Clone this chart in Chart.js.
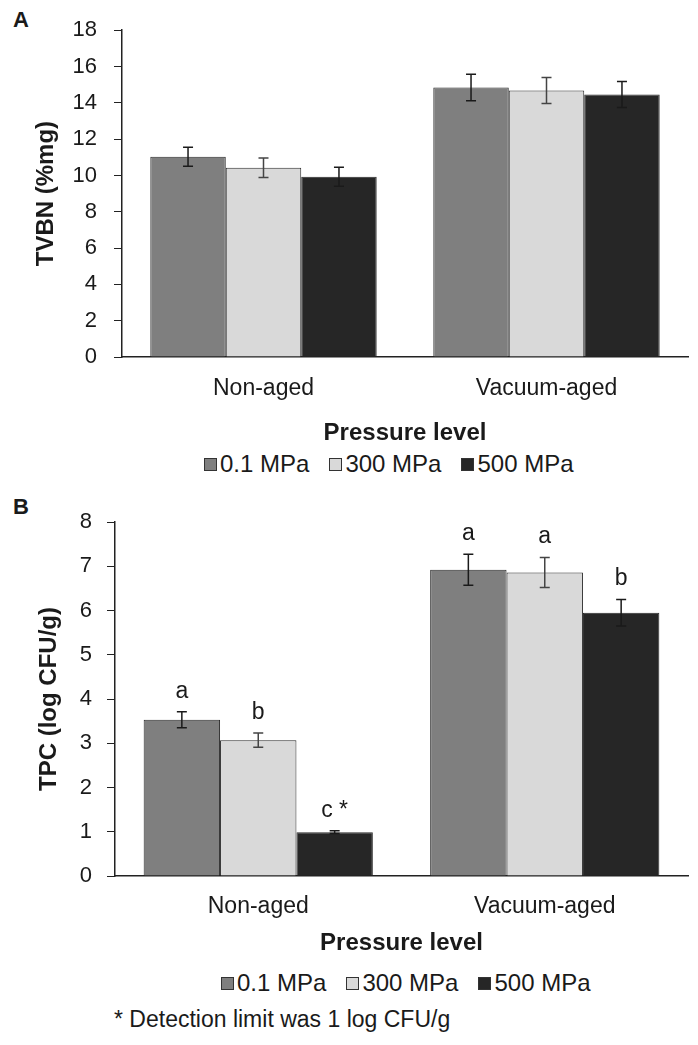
<!DOCTYPE html>
<html>
<head>
<meta charset="utf-8">
<script src="https://cdn.jsdelivr.net/npm/chart.js@4.4.1/dist/chart.umd.min.js"></script>
<style>
    body { margin: 0; background: #fff; }
    #wrap { position: relative; width: 698px; height: 1045px; background: #fff; font-family: "Liberation Sans", Arial, sans-serif; color: #1a1a1a; }
    canvas { position: absolute; left: 0; }
    .panel { position: absolute; left: 13px; font-size: 22px; font-weight: bold; line-height: 1; }
    .legend { position: absolute; display: flex; align-items: center; font-size: 24px; line-height: 1; white-space: nowrap; }
    .legend .item { display: flex; align-items: center; margin-right: 20px; }
    .legend i { display: inline-block; width: 11px; height: 11px; border: 1px solid #333; margin-right: 3px; }
    .note { position: absolute; left: 114px; top: 1008px; font-size: 23px; line-height: 1; white-space: nowrap; }
</style>
</head>
<body>
<div id="wrap">
    <div class="panel" style="top:9px;">A</div>
    <canvas id="chartA" width="698" height="450" style="top:0;"></canvas>
    <div class="legend" id="legendA" style="left:204px;top:452px;"></div>

    <div class="panel" style="top:496px;">B</div>
    <canvas id="chartB" width="698" height="470" style="top:490px;"></canvas>
    <div class="legend" id="legendB" style="left:221px;top:971px;"></div>
    <div class="note">* Detection limit was 1 log CFU/g</div>
</div>

<script>
// ── Data ──────────────────────────────────────────────────────────────────────
const categories   = ['Non-aged', 'Vacuum-aged'];
const seriesNames  = ['0.1 MPa', '300 MPa', '500 MPa'];
const seriesColors = ['#7f7f7f', '#d9d9d9', '#262626'];

// Panel A: TVBN (%mg)
const tvbn01  = [11.03, 14.85];
const tvbn300 = [10.42, 14.68];
const tvbn500 = [9.93, 14.46];
const tvbnErr01  = [0.52, 0.73];
const tvbnErr300 = [0.54, 0.72];
const tvbnErr500 = [0.52, 0.72];

// Panel B: TPC (log CFU/g)
const tpc01  = [3.53, 6.92];
const tpc300 = [3.07, 6.86];
const tpc500 = [0.99, 5.95];
const tpcErr01  = [0.18, 0.35];
const tpcErr300 = [0.16, 0.34];
const tpcErr500 = [0.03, 0.30];
const tpcLetters01  = ['a', 'a'];
const tpcLetters300 = ['b', 'a'];
const tpcLetters500 = ['c *', 'b'];

const FONT = '"Liberation Sans", Arial, sans-serif';
Chart.defaults.font.family = FONT;
Chart.defaults.color = '#1a1a1a';

// ── Error bars + letters ──────────────────────────────────────────────────────
const errorBarPlugin = {
    id: 'errorBars',
    afterDatasetsDraw(chart) {
        const ctx = chart.ctx;
        const y = chart.scales.y;
        chart.data.datasets.forEach((ds, i) => {
            const meta = chart.getDatasetMeta(i);
            meta.data.forEach((bar, j) => {
                const v = ds.data[j], e = ds.errors[j];
                const top = y.getPixelForValue(v + e);
                const bot = y.getPixelForValue(v - e);
                ctx.save();
                ctx.strokeStyle = ds.errColor;
                ctx.lineWidth = 1.5;
                ctx.beginPath();
                ctx.moveTo(bar.x, top); ctx.lineTo(bar.x, bot);
                ctx.moveTo(bar.x - 5, top); ctx.lineTo(bar.x + 5, top);
                ctx.moveTo(bar.x - 5, bot); ctx.lineTo(bar.x + 5, bot);
                ctx.stroke();
                if (ds.letters) {
                    ctx.fillStyle = '#1a1a1a';
                    ctx.font = '23px ' + FONT;
                    ctx.textAlign = 'center';
                    ctx.textBaseline = 'alphabetic';
                    ctx.fillText(ds.letters[j], bar.x, top - 14);
                }
                ctx.restore();
            });
        });
    }
};

function makeChart(id, values, errors, letters, yMax, yTitle, lay) {
    return new Chart(document.getElementById(id), {
        type: 'bar',
        data: {
            labels: categories,
            datasets: seriesNames.map((name, i) => ({
                label: name,
                data: values[i],
                errors: errors[i],
                letters: letters ? letters[i] : null,
                errColor: i === 1 ? '#444' : '#1a1a1a',
                backgroundColor: seriesColors[i],
                borderColor: '#2a2a2a',
                borderWidth: 1,
                categoryPercentage: 0.8,
                barPercentage: 1.0
            }))
        },
        options: {
            responsive: false,
            animation: false,
            devicePixelRatio: 1,
            layout: { padding: { top: lay.top, right: 10, left: 0, bottom: 0 } },
            plugins: { legend: { display: false }, tooltip: { enabled: false } },
            scales: {
                x: {
                    grid: { display: false, drawTicks: false },
                    border: { display: true, color: '#222', width: 1.5 },
                    ticks: { font: { size: 23 }, padding: lay.xPad },
                    title: { display: true, text: 'Pressure level', font: { size: 24, weight: 'bold' }, padding: { top: 0, bottom: 2.6 } },
                    afterFit: s => { s.height = lay.xHeight; }
                },
                y: {
                    min: 0, max: yMax,
                    ticks: { stepSize: yMax === 18 ? 2 : 1, font: { size: 22 }, padding: lay.yPad },
                    grid: { drawOnChartArea: false, drawTicks: true, tickLength: 8, color: '#222' },
                    border: { display: true, color: '#222', width: 1.5 },
                    title: { display: true, text: yTitle, font: { size: 24, weight: 'bold' }, padding: { top: lay.titlePad, bottom: 0 } },
                    afterFit: s => { s.width = lay.yWidth; }
                }
            }
        },
        plugins: [errorBarPlugin]
    });
}

function buildLegend(id) {
    document.getElementById(id).innerHTML = seriesNames.map((name, i) =>
        `<span class="item"><i style="background:${seriesColors[i]}"></i>${name}</span>`
    ).join('');
}

// ── Charts ────────────────────────────────────────────────────────────────────
makeChart('chartA',
    [tvbn01, tvbn300, tvbn500],
    [tvbnErr01, tvbnErr300, tvbnErr500],
    null, 18, 'TVBN (%mg)',
    { top: 27, xHeight: 93, xPad: 18, yWidth: 122, yPad: 17, titlePad: 32 });

makeChart('chartB',
    [tpc01, tpc300, tpc500],
    [tpcErr01, tpcErr300, tpcErr500],
    [tpcLetters01, tpcLetters300, tpcLetters500], 8, 'TPC (log CFU/g)',
    { top: 32, xHeight: 84, xPad: 17, yWidth: 115, yPad: 15, titlePad: 35 });

buildLegend('legendA');
buildLegend('legendB');
</script>
</body>
</html>
